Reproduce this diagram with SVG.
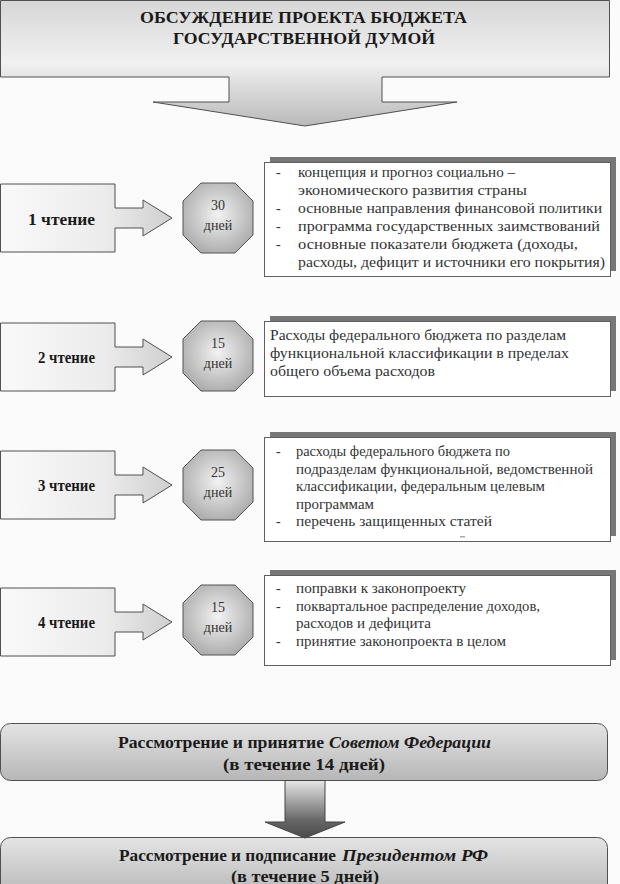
<svg xmlns="http://www.w3.org/2000/svg" width="620" height="884" viewBox="0 0 620 884">
<style>
.bg{fill:#fbfbfb}
.edge{stroke:#505050;stroke-width:1}
.hd{font-family:"Liberation Serif","Times New Roman",serif;font-weight:bold;font-size:17px;fill:#1a1a1a}
.lbl{font-family:"Liberation Serif","Times New Roman",serif;font-weight:bold;font-size:16px;fill:#1a1a1a}
.oct{font-family:"Liberation Serif","Times New Roman",serif;font-size:14px;fill:#333}
.tx{font-family:"Liberation Serif","Times New Roman",serif;font-size:14px;fill:#333}
.bt{font-family:"Liberation Serif","Times New Roman",serif;font-weight:bold;font-size:16px;fill:#1a1a1a}
.it{font-style:italic}
.card{fill:#ffffff;stroke:#606060;stroke-width:1}
.shadow{fill:#777777}
</style>
<defs>
<linearGradient id="gHead" gradientUnits="userSpaceOnUse" x1="0" y1="0" x2="0" y2="126">
<stop offset="0" stop-color="#d6d6d6"/>
<stop offset="0.5" stop-color="#f1f1f1"/>
<stop offset="1" stop-color="#b9b9b9"/>
</linearGradient>
<linearGradient id="gRead" x1="0" y1="0" x2="1" y2="0">
<stop offset="0" stop-color="#f9f9f9"/>
<stop offset="0.6" stop-color="#ececec"/>
<stop offset="1" stop-color="#cfcfcf"/>
</linearGradient>
<radialGradient id="gOct" cx="0.5" cy="0.45" r="0.6">
<stop offset="0" stop-color="#f2f2f2"/>
<stop offset="1" stop-color="#a9a9a9"/>
</radialGradient>
<linearGradient id="gBox" x1="0" y1="0" x2="0" y2="1">
<stop offset="0" stop-color="#e4e4e4"/>
<stop offset="1" stop-color="#b6b6b6"/>
</linearGradient>
<linearGradient id="gArrow" gradientUnits="userSpaceOnUse" x1="0" y1="780" x2="0" y2="838">
<stop offset="0" stop-color="#e8e8e8"/>
<stop offset="0.7" stop-color="#666666"/>
<stop offset="1" stop-color="#4a4a4a"/>
</linearGradient>
<polygon id="octShape" points="-17,-35 17,-35 35,-17 35,17 17,35 -17,35 -35,17 -35,-17" fill="url(#gOct)" stroke="#555" stroke-width="1"/>
</defs>
<rect class="bg" x="0" y="0" width="620" height="884"/>

<g id="heading">
<path d="M0.5,0.5 H609.5 V77 H382 V102 H457 L305,126 L153,102 H229 V77 H0.5 Z" fill="url(#gHead)" class="edge"/>
<text class="hd" x="140" y="23" textLength="327" lengthAdjust="spacingAndGlyphs">ОБСУЖДЕНИЕ ПРОЕКТА БЮДЖЕТА</text>
<text class="hd" x="173" y="44" textLength="262" lengthAdjust="spacingAndGlyphs">ГОСУДАРСТВЕННОЙ ДУМОЙ</text>
</g>

<!-- Reading 1 -->
<g id="reading1">
<path d="M0.5,184 H115 V208 H143 V200 L172,218 L143,236 V228 H115 V252 H0.5 Z" fill="url(#gRead)" class="edge"/>
<text class="lbl" x="28" y="225" textLength="67" lengthAdjust="spacingAndGlyphs">1 чтение</text>
</g>
<g id="days1">
<use href="#octShape" x="218" y="218"/>
<text class="oct" x="218" y="210" text-anchor="middle">30</text>
<text class="oct" x="218" y="230" text-anchor="middle">дней</text>
</g>
<g id="content1">
<rect class="shadow" x="270" y="157" width="346" height="114"/>
<rect class="card" x="264.5" y="162.5" width="346" height="114"/>
<text class="tx" x="276" y="177">-</text>
<text class="tx" x="298" y="177" textLength="217" lengthAdjust="spacingAndGlyphs">концепция и прогноз социально –</text>
<text class="tx" x="298" y="195" textLength="229" lengthAdjust="spacingAndGlyphs">экономического развития страны</text>
<text class="tx" x="276" y="213">-</text>
<text class="tx" x="298" y="213" textLength="304" lengthAdjust="spacingAndGlyphs">основные направления финансовой политики</text>
<text class="tx" x="276" y="231">-</text>
<text class="tx" x="298" y="231" textLength="302" lengthAdjust="spacingAndGlyphs">программа государственных заимствований</text>
<text class="tx" x="276" y="249">-</text>
<text class="tx" x="298" y="249" textLength="280" lengthAdjust="spacingAndGlyphs">основные показатели бюджета (доходы,</text>
<text class="tx" x="298" y="267" textLength="307" lengthAdjust="spacingAndGlyphs">расходы, дефицит и источники его покрытия)</text>
</g>

<!-- Reading 2 -->
<g id="reading2">
<path d="M0.5,323 H115 V347 H143 V339 L172,357 L143,375 V367 H115 V391 H0.5 Z" fill="url(#gRead)" class="edge"/>
<text class="lbl" x="38" y="363" textLength="57" lengthAdjust="spacingAndGlyphs">2 чтение</text>
</g>
<g id="days2">
<use href="#octShape" x="218" y="356"/>
<text class="oct" x="218" y="348" text-anchor="middle">15</text>
<text class="oct" x="218" y="368" text-anchor="middle">дней</text>
</g>
<g id="content2">
<rect class="shadow" x="270" y="316" width="346" height="75"/>
<rect class="card" x="264.5" y="321.5" width="346" height="75"/>
<text class="tx" x="270" y="340" textLength="296" lengthAdjust="spacingAndGlyphs">Расходы федерального бюджета по разделам</text>
<text class="tx" x="270" y="358" textLength="299" lengthAdjust="spacingAndGlyphs">функциональной классификации в пределах</text>
<text class="tx" x="270" y="376" textLength="165" lengthAdjust="spacingAndGlyphs">общего объема расходов</text>
</g>

<!-- Reading 3 -->
<g id="reading3">
<path d="M0.5,451 H115 V475 H143 V467 L172,485 L143,503 V495 H115 V519 H0.5 Z" fill="url(#gRead)" class="edge"/>
<text class="lbl" x="38" y="491" textLength="57" lengthAdjust="spacingAndGlyphs">3 чтение</text>
</g>
<g id="days3">
<use href="#octShape" x="218" y="485"/>
<text class="oct" x="218" y="477" text-anchor="middle">25</text>
<text class="oct" x="218" y="497" text-anchor="middle">дней</text>
</g>
<g id="content3">
<rect class="shadow" x="270" y="432" width="346" height="104"/>
<rect class="card" x="264.5" y="437.5" width="346" height="104"/>
<text class="tx" x="276" y="456">-</text>
<text class="tx" x="296" y="456" textLength="214" lengthAdjust="spacingAndGlyphs">расходы федерального бюджета по</text>
<text class="tx" x="296" y="473.5" textLength="297" lengthAdjust="spacingAndGlyphs">подразделам функциональной, ведомственной</text>
<text class="tx" x="296" y="491" textLength="249" lengthAdjust="spacingAndGlyphs">классификации, федеральным целевым</text>
<text class="tx" x="296" y="508.5" textLength="78" lengthAdjust="spacingAndGlyphs">программам</text>
<text class="tx" x="276" y="526">-</text>
<text class="tx" x="296" y="526" textLength="196" lengthAdjust="spacingAndGlyphs">перечень защищенных статей</text>
<rect x="460" y="536" width="5" height="1.5" fill="#aaaaaa"/>
</g>

<!-- Reading 4 -->
<g id="reading4">
<path d="M0.5,588 H115 V612 H143 V604 L172,622 L143,640 V632 H115 V656 H0.5 Z" fill="url(#gRead)" class="edge"/>
<text class="lbl" x="38" y="628" textLength="57" lengthAdjust="spacingAndGlyphs">4 чтение</text>
</g>
<g id="days4">
<use href="#octShape" x="218" y="620"/>
<text class="oct" x="218" y="612" text-anchor="middle">15</text>
<text class="oct" x="218" y="632" text-anchor="middle">дней</text>
</g>
<g id="content4">
<rect class="shadow" x="270" y="570" width="346" height="90"/>
<rect class="card" x="264.5" y="575.5" width="346" height="90"/>
<text class="tx" x="276" y="593">-</text>
<text class="tx" x="296" y="593" textLength="170" lengthAdjust="spacingAndGlyphs">поправки к законопроекту</text>
<text class="tx" x="276" y="611">-</text>
<text class="tx" x="296" y="611" textLength="244" lengthAdjust="spacingAndGlyphs">поквартальное распределение доходов,</text>
<text class="tx" x="296" y="628" textLength="135" lengthAdjust="spacingAndGlyphs">расходов и дефицита</text>
<text class="tx" x="276" y="646">-</text>
<text class="tx" x="296" y="646" textLength="210" lengthAdjust="spacingAndGlyphs">принятие законопроекта в целом</text>
</g>

<!-- Federation Council -->
<g id="council">
<rect x="0.5" y="723.5" width="607" height="57" rx="10" fill="url(#gBox)" class="edge"/>
<text class="bt" x="118" y="748" textLength="206" lengthAdjust="spacingAndGlyphs">Рассмотрение и принятие</text>
<text class="bt it" x="329" y="748" textLength="162" lengthAdjust="spacingAndGlyphs">Советом Федерации</text>
<text class="bt" x="223" y="770" textLength="162" lengthAdjust="spacingAndGlyphs">(в течение 14 дней)</text>
</g>

<!-- President -->
<g id="president">
<rect x="0.5" y="837.5" width="607" height="60" rx="10" fill="url(#gBox)" class="edge"/>
<text class="bt" x="119" y="861" textLength="217" lengthAdjust="spacingAndGlyphs">Рассмотрение и подписание</text>
<text class="bt it" x="342" y="861" textLength="146" lengthAdjust="spacingAndGlyphs">Президентом РФ</text>
<text class="bt" x="231" y="882" textLength="148" lengthAdjust="spacingAndGlyphs">(в течение 5 дней)</text>
</g>

<g id="connectors">
<path d="M285,780.5 H325 V822 H345 L305,838 L265,822 H285 Z" fill="url(#gArrow)" stroke="#444" stroke-width="1"/>
</g>
</svg>
